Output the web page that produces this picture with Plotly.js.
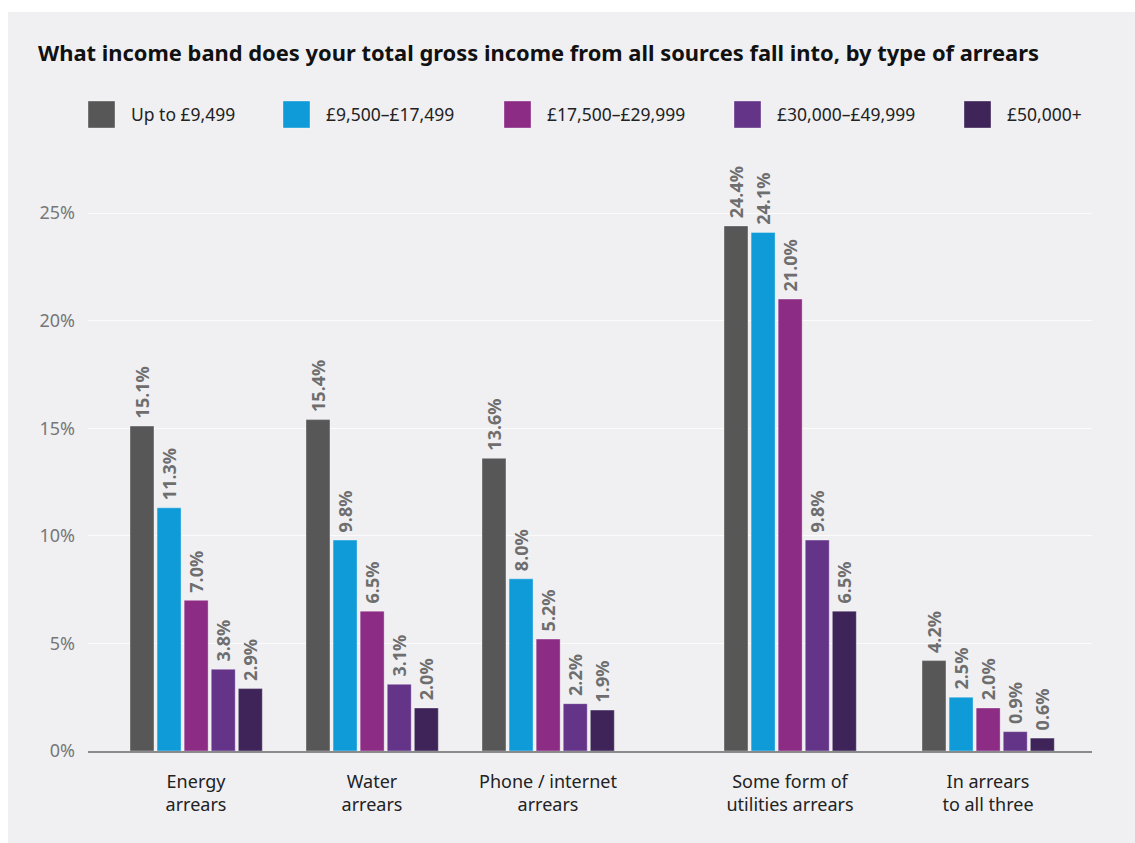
<!DOCTYPE html>
<html>
<head>
<meta charset="utf-8">
<script src="https://cdn.plot.ly/plotly-3.0.1.min.js"></script>
<style>
  html, body { margin: 0; padding: 0; background: #ffffff; }
  #chart { position: absolute; left: 8px; top: 12px; width: 1127px; height: 831px; }
</style>
</head>
<body>
<div id="chart"></div>
<script>
// ---- data ----
const categories = ["Energy arrears", "Water arrears", "Phone / internet arrears", "Some form of utilities arrears", "In arrears to all three"];
const tickLabels = ["Energy<br>arrears", "Water<br>arrears", "Phone / internet<br>arrears", "Some form of<br>utilities arrears", "In arrears<br>to all three"];
const seriesNames = ["Up to £9,499", "£9,500–£17,499", "£17,500–£29,999", "£30,000–£49,999", "£50,000+"];
const upTo9499   = [15.1, 15.4, 13.6, 24.4, 4.2];
const band9500   = [11.3, 9.8, 8.0, 24.1, 2.5];
const band17500  = [7.0, 6.5, 5.2, 21.0, 2.0];
const band30000  = [3.8, 3.1, 2.2, 9.8, 0.9];
const band50000  = [2.9, 2.0, 1.9, 6.5, 0.6];
const yTicks = [0, 5, 10, 15, 20, 25];

// ---- styling / layout ----
const seriesValues = [upTo9499, band9500, band17500, band30000, band50000];
const colors = ["#575757", "#0f9bd8", "#8c2c85", "#643489", "#3e2459"];
const slotOf = [0, 8, 16, 27, 36];           // category slot of each group (wider gap before 4th)
const nSlots = 37;
const categoryArray = [];
for (let s = 0; s < nSlots; s++) {
  const k = slotOf.indexOf(s);
  categoryArray.push(k >= 0 ? categories[k] : "gap" + s);
}
const barW = 1.09, pitch = 1.231, firstOff = -3.0;

const FONT = "Noto Sans, Open Sans, sans-serif";

const traces = seriesNames.map((name, i) => ({
  type: "bar",
  name: name,
  x: categories,
  y: seriesValues[i],
  width: barW,
  offset: firstOff + i * pitch,
  marker: { color: colors[i], line: { color: "rgba(255,255,255,0.35)", width: 1 } },
  texttemplate: "\u00A0%{y:.1f}%",
  textposition: "outside",
  textangle: -90,
  constraintext: "none",
  cliponaxis: false,
  textfont: { family: FONT, size: 18, color: "#6e6e6e", weight: "bold" },
  hoverinfo: "skip",
  showlegend: false
}));

// manual legend (large square swatches)
const plotL = 80, plotW = 1004, plotB = 739, plotH = 581;
const px2x = p => (p - plotL) / plotW;
const px2y = p => (plotB - p) / plotH;
const legendX = [80, 275, 496, 726, 956];
const shapes = [], annotations = [];
seriesNames.forEach((name, i) => {
  shapes.push({
    type: "rect", xref: "paper", yref: "paper",
    x0: px2x(legendX[i]), x1: px2x(legendX[i] + 27),
    y0: px2y(116), y1: px2y(89),
    fillcolor: colors[i], line: { color: "rgba(255,255,255,0.35)", width: 1 }
  });
  annotations.push({
    xref: "paper", yref: "paper",
    x: px2x(legendX[i] + 41), y: px2y(102.5),
    xanchor: "left", yanchor: "middle",
    text: name, showarrow: false,
    font: { family: FONT, size: 17.5, color: "#222222" }
  });
});

const layout = {
  width: 1127, height: 831,
  paper_bgcolor: "#f0f0f3",
  plot_bgcolor: "#f0f0f3",
  margin: { l: 80, r: 43, t: 158, b: 92 },
  barmode: "overlay",
  title: {
    text: "<b>What income band does your total gross income from all sources fall into, by type of arrears</b>",
    x: 30 / 1127, xref: "container", xanchor: "left",
    y: 1 - 41 / 831, yref: "container", yanchor: "middle",
    font: { family: FONT, size: 21.9, color: "#111111" }
  },
  xaxis: {
    type: "category",
    categoryorder: "array",
    categoryarray: categoryArray,
    range: [-4.909, 40.727],
    tickmode: "array",
    tickvals: categories,
    ticktext: tickLabels,
    ticks: "",
    showgrid: false,
    showline: true, linecolor: "#8a8a8a", linewidth: 2,
    tickfont: { family: FONT, size: 18, color: "#222222" },
    ticklabelstandoff: 13,
    fixedrange: true
  },
  yaxis: {
    range: [0, 27],
    tickmode: "array",
    tickvals: yTicks,
    ticktext: yTicks.map(v => v + "%"),
    ticks: "",
    showgrid: true, gridcolor: "#fbfbfc", gridwidth: 1,
    zeroline: false,
    showline: false,
    tickfont: { family: FONT, size: 18, color: "#777777" },
    ticklabelstandoff: 12,
    fixedrange: true
  },
  shapes: shapes,
  annotations: annotations,
  showlegend: false
};

Plotly.newPlot("chart", traces, layout, { displayModeBar: false, staticPlot: true });
</script>
</body>
</html>
